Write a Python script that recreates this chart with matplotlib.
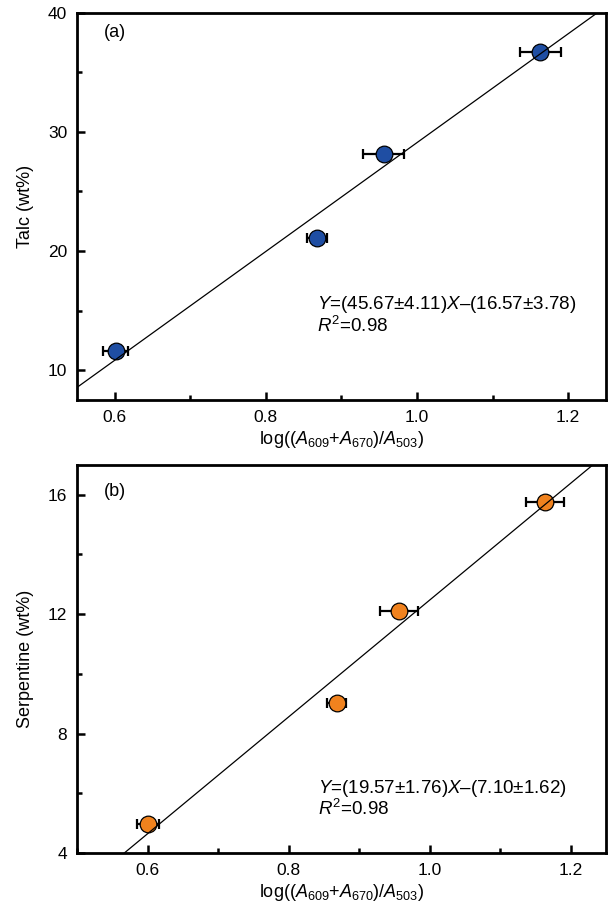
import matplotlib
matplotlib.use("Agg")
import matplotlib.pyplot as plt
import numpy as np
from matplotlib.ticker import MultipleLocator

plt.rcParams['font.family'] = ['Liberation Sans', 'DejaVu Sans']
plt.rcParams['mathtext.fontset'] = 'custom'
plt.rcParams['mathtext.rm'] = 'Liberation Sans'
plt.rcParams['mathtext.it'] = 'Liberation Sans:italic'
plt.rcParams['mathtext.bf'] = 'Liberation Sans:bold'

# Data
x_vals = [0.601, 0.868, 0.956, 1.163]
x_err = [0.016, 0.013, 0.027, 0.027]
talc = [11.62, 21.12, 28.18, 36.73]
serp = [4.98, 9.02, 12.10, 15.75]
talc_fit = (45.67, -16.57)
serp_fit = (19.57, -7.10)

talc_eq = r'$\mathit{Y}$=(45.67±4.11)$\mathit{X}$–(16.57±3.78)'
serp_eq = r'$\mathit{Y}$=(19.57±1.76)$\mathit{X}$–(7.10±1.62)'
r2_text = r'$\mathit{R}^2$=0.98'
xlabel = r'log(($\mathit{A}_{609}$+$\mathit{A}_{670}$)/$\mathit{A}_{503}$)'

fig = plt.figure(figsize=(6.08, 9.11), dpi=100)
ax1 = fig.add_axes([0.1266, 0.561, 0.870, 0.425])
ax2 = fig.add_axes([0.1266, 0.0637, 0.870, 0.426])

def style(ax):
    for s in ax.spines.values():
        s.set_linewidth(2.0)
    ax.tick_params(which='both', direction='in', top=False, right=False, labelsize=12.5, width=1.8, pad=7)
    ax.tick_params(which='major', length=6)
    ax.tick_params(which='minor', length=3.5)
    ax.xaxis.set_major_locator(MultipleLocator(0.2))
    ax.xaxis.set_minor_locator(MultipleLocator(0.1))

def panel(ax, y, fit, color, xlim, ylim, ymaj, ylabel, tag, eq, eqpos):
    ax.set_xlim(*xlim)
    ax.set_ylim(*ylim)
    xs = np.linspace(xlim[0], xlim[1], 200)
    ax.plot(xs, fit[0] * xs + fit[1], color='black', lw=0.9, zorder=4)
    ax.errorbar(x_vals, y, xerr=x_err, fmt='none', ecolor='black', elinewidth=1.6,
                capsize=3.5, capthick=1.6, zorder=2)
    ax.plot(x_vals, y, 'o', ms=12, mfc=color, mec='black', mew=0.9, zorder=3)
    style(ax)
    ax.yaxis.set_major_locator(MultipleLocator(ymaj))
    ax.yaxis.set_minor_locator(MultipleLocator(ymaj / 2))
    ax.set_ylabel(ylabel, fontsize=13, labelpad=10)
    ax.set_xlabel(xlabel, fontsize=13, labelpad=3)
    ax.text(0.05, tag[1], tag[0], transform=ax.transAxes, fontsize=13, va='center', ha='left')
    ax.text(eqpos[0], eqpos[1], eq, transform=ax.transAxes, fontsize=13.5, va='center', ha='left')
    ax.text(eqpos[0], eqpos[2], r2_text, transform=ax.transAxes, fontsize=13.5, va='center', ha='left')

panel(ax1, talc, talc_fit, '#1f4ea3', (0.55, 1.25), (7.5, 40), 10, 'Talc (wt%)',
      ('(a)', 0.948), talc_eq, (0.453, 0.246, 0.19))
panel(ax2, serp, serp_fit, '#f0821e', (0.5, 1.25), (4, 17), 4, 'Serpentine (wt%)',
      ('(b)', 0.931), serp_eq, (0.456, 0.167, 0.113))

fig.savefig('out.png', dpi=100)
